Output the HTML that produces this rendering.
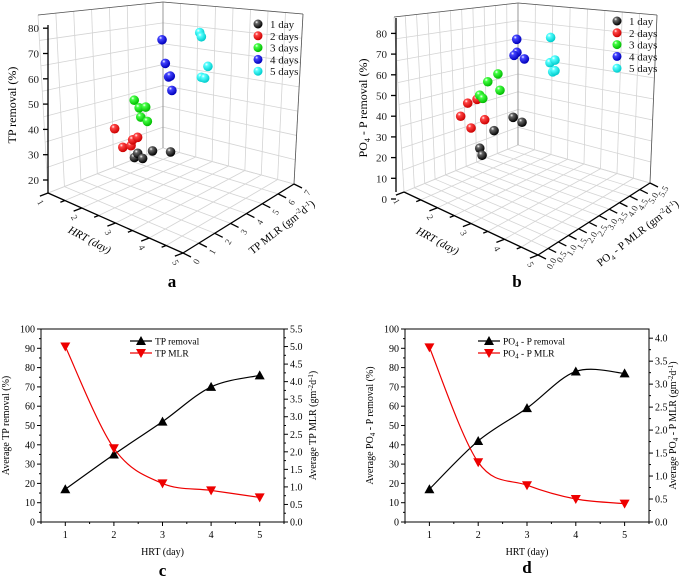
<!DOCTYPE html>
<html><head><meta charset="utf-8"><style>
html,body{margin:0;padding:0;background:#fff;}
svg{display:block;font-family:"Liberation Serif",serif;}
</style></head><body>
<svg id="fig" width="685" height="580" viewBox="0 0 685 580">
<defs>
<radialGradient id="gk" cx="0.35" cy="0.3" r="0.7"><stop offset="0" stop-color="#fff"/><stop offset="0.25" stop-color="#666"/><stop offset="1" stop-color="#000"/></radialGradient>
<radialGradient id="gr" cx="0.35" cy="0.3" r="0.7"><stop offset="0" stop-color="#fff"/><stop offset="0.25" stop-color="#f44"/><stop offset="1" stop-color="#c00"/></radialGradient>
<radialGradient id="gg" cx="0.35" cy="0.3" r="0.7"><stop offset="0" stop-color="#fff"/><stop offset="0.25" stop-color="#4f4"/><stop offset="1" stop-color="#0b0"/></radialGradient>
<radialGradient id="gb" cx="0.35" cy="0.3" r="0.7"><stop offset="0" stop-color="#fff"/><stop offset="0.25" stop-color="#44f"/><stop offset="1" stop-color="#00b"/></radialGradient>
<radialGradient id="gc" cx="0.35" cy="0.3" r="0.7"><stop offset="0" stop-color="#fff"/><stop offset="0.25" stop-color="#5ff"/><stop offset="1" stop-color="#0cc"/></radialGradient>
</defs>
</svg>
<script>
// ---- 3D scatter data (panel a) ----
const aHrt = [1,1,1,1,1, 2,2,2,2,2, 3,3,3,3,3, 4,4,4,4,4, 5,5,5,5,5];
const aMlr = [5.2,5.4,5.7,6.3,7.4, 2.0,2.5,3.0,3.1,3.4, 1.2,1.5,1.9,1.6,2.0, 0.9,1.1,1.3,1.4,1.5, 1.2,1.3,1.7,1.3,1.5];
const aRem = [12,13,10,11,7, 40,31,30,32,32, 60,56,55,52,49, 91,81,75,75,69, 99,97,84,81,80];
// ---- 3D scatter data (panel b) ----
const bHrt = [1,1,1,1,1, 2,2,2,2,2, 3,3,3,3,3, 4,4,4,4, 5,5,5,5,5];
const bMlr = [3.66,3.77,4.35,5.27,5.7, 1.12,1.46,1.91,1.62,2.28, 0.42,0.57,0.81,1.3,1.4, 0.59,0.6,0.46,0.96, 0.61,0.58,0.82,0.71,0.82];
const bRem = [9.6,5.7,15.3,18,13.8, 43.4,48.4,48.4,35.6,36.9, 64.3,62.1,69.2,71,62.6, 98.5,92.1,91.2,87.4, 107,94.8,95.1,89.8,89.9];
const legendLabels = ["1 day","2 days","3 days","4 days","5 days"];
// ---- line chart data ----
const hrtDays = [1,2,3,4,5];
const tpRemoval = [17,35,52,70,76];
const tpMlr = [5.0,2.1,1.1,0.9,0.7];
const poRemoval = [17,42,59,78,77];
const poMlr = [3.8,1.3,0.8,0.5,0.4];
const leftTicks = [0,10,20,30,40,50,60,70,80,90,100];
const rightTicksC = [0,0.5,1,1.5,2,2.5,3,3.5,4,4.5,5,5.5];
const rightTicksD = [0,0.5,1,1.5,2,2.5,3,3.5,4];

const NS="http://www.w3.org/2000/svg";
const svg=document.getElementById('fig');
function el(tag,attrs,parent,text){const e=document.createElementNS(NS,tag);for(const k in attrs)e.setAttribute(k,attrs[k]);if(text!==undefined)e.textContent=text;(parent||svg).appendChild(e);return e;}
const grads=['gk','gr','gg','gb','gc'];

function lerp(p,q,t){return [p[0]+(q[0]-p[0])*t,p[1]+(q[1]-p[1])*t];}
function draw3d(c){
  const g=el('g',{});
  
  
  const gs={stroke:'#d4d4d4','stroke-width':0.8,fill:'none'};
  for(let i=0;i<=c.nm;i++){const t=i/c.nm;const b=lerp(c.A,c.B,t),tp=lerp(c.TL,c.TB,t);el('line',{x1:b[0],y1:b[1],x2:tp[0],y2:tp[1],...gs},g);}
  for(let i=0;i<=c.nz;i++){const t=i/c.nz;const l=lerp(c.A,c.TL,t),r=lerp(c.B,c.TB,t);el('line',{x1:l[0],y1:l[1],x2:r[0],y2:r[1],...gs},g);}
  for(let i=0;i<=8;i++){const t=i/8;const b=lerp(c.B,c.C,t),tp=lerp(c.TB,c.TR,t);el('line',{x1:b[0],y1:b[1],x2:tp[0],y2:tp[1],...gs},g);}
  for(let i=0;i<=c.nz;i++){const t=i/c.nz;const l=lerp(c.B,c.TB,t),r=lerp(c.C,c.TR,t);el('line',{x1:l[0],y1:l[1],x2:r[0],y2:r[1],...gs},g);}
  for(let i=0;i<=8;i++){const t=i/8;const p=lerp(c.A,c.D,t),q=lerp(c.B,c.C,t);el('line',{x1:p[0],y1:p[1],x2:q[0],y2:q[1],...gs},g);}
  for(let i=0;i<=c.nm;i++){const t=i/c.nm;const p=lerp(c.A,c.B,t),q=lerp(c.D,c.C,t);el('line',{x1:p[0],y1:p[1],x2:q[0],y2:q[1],...gs},g);}
  el('polyline',{points:[c.TL,c.TB,c.TR].map(p=>p.join(',')).join(' '),stroke:'#555','stroke-width':0.8,fill:'none'},g);
  el('line',{x1:c.TB[0],y1:c.TB[1],x2:c.B[0],y2:c.B[1],stroke:'#888','stroke-width':0.8},g);
  el('line',{x1:c.TR[0],y1:c.TR[1],x2:c.C[0],y2:c.C[1],stroke:'#555','stroke-width':0.8},g);
  const ax={stroke:'#000','stroke-width':1.3,fill:'none'};
  el('line',{x1:c.zx,y1:c.zTop,x2:c.zx,y2:c.A[1],...ax},g);
  el('line',{x1:c.A[0],y1:c.A[1],x2:c.D[0],y2:c.D[1],...ax},g);
  el('line',{x1:c.D[0],y1:c.D[1],x2:c.C[0],y2:c.C[1],...ax},g);
  c.zTicks.forEach(v=>{const y=c.zY(v);el('line',{x1:c.zx-5,y1:y,x2:c.zx,y2:y,...ax},g);
    const t=el('text',{x:c.zx-9,y:y+4,'text-anchor':'end','font-size':11,fill:'#222'},g,String(v));
    });
  for(let i=0;i<=8;i++){const p=lerp(c.A,c.D,i/8);const len=i%2==0?9:5;
    el('line',{x1:p[0],y1:p[1],x2:p[0]-len*0.9,y2:p[1]+len*0.35,...ax},g);
    if(i%2==0){const lx=p[0]-10,ly=p[1]+11;
      const t=el('text',{x:lx,y:ly,'text-anchor':'middle','font-size':9,fill:'#333',transform:`rotate(60 ${lx} ${ly})`},g,String(1+i/2));
      }}
  c.mLabels.forEach((lab,i)=>{const p=lerp(c.D,c.C,i/(c.mLabels.length-1));
    el('line',{x1:p[0],y1:p[1],x2:p[0]+8,y2:p[1]+4,...ax},g);
    const lx=p[0]+16,ly=p[1]+10;
    const t=el('text',{x:lx,y:ly,'text-anchor':'middle','font-size':9,fill:'#333',transform:`rotate(-60 ${lx} ${ly})`},g,lab);
    });
  let t=el('text',{x:c.zTitle[0],y:c.zTitle[1],'text-anchor':'middle','font-size':12,transform:`rotate(-90 ${c.zTitle[0]} ${c.zTitle[1]})`},g);
  t.innerHTML=c.zTitleHtml;
  
  t=el('text',{x:c.hTitle[0],y:c.hTitle[1],'text-anchor':'middle','font-size':11,'font-style':'italic',transform:`rotate(28 ${c.hTitle[0]} ${c.hTitle[1]})`},g,'HRT (day)');
  
  t=el('text',{x:c.mTitle[0],y:c.mTitle[1],'text-anchor':'middle','font-size':11,transform:`rotate(-38 ${c.mTitle[0]} ${c.mTitle[1]})`},g);
  t.innerHTML=c.mTitleHtml;
  
  c.hrt.forEach((h,i)=>{const m=c.mlr[i],z=c.rem[i];
    const x=c.px(h,m),y=c.py(h,m,z);
    const s=el('circle',{cx:x,cy:y,r:4.8,fill:`url(#${grads[h-1]})`},g);
    
    });
  legendLabels.forEach((lab,i)=>{const y=c.leg[1]+i*11.8;
    const s=el('circle',{cx:c.leg[0],cy:y,r:4.5,fill:`url(#${grads[i]})`},g);
    
    const t=el('text',{x:c.leg[0]+12,y:y+4,'font-size':11,fill:'#111'},g,lab);
    });
  t=el('text',{x:c.letter[0],y:c.letter[1],'text-anchor':'middle','font-size':17,'font-weight':'bold'},g,c.letterText);
  
}

draw3d({name:'panel-a-3d-scatter',A:[48,193],B:[163,148],C:[294,184],D:[183,253],TL:[38,15],TB:[163,2],TR:[303,14],
  nm:7,nz:7,zx:48,zTop:25,zTicks:[20,30,40,50,60,70,80],zY:v=>180-(v-20)*2.53,
  mLabels:['0','1','2','3','4','5','6','7'],
  zTitle:[16,105],zTitleHtml:'TP removal (%)',hTitle:[88,243],mTitle:[284,230],
  mTitleHtml:'TP MLR (gm<tspan font-size="7" dy="-4">-2</tspan><tspan dy="4">d</tspan><tspan font-size="7" dy="-4">-1</tspan><tspan dy="4">)</tspan>',
  hrt:aHrt,mlr:aMlr,rem:aRem,
  px:(h,m)=>49+(h-1)/4*131+m/7*115, py:(h,m,z)=>193+(h-1)/4*62-m/7*58-(z-15)*2.53,
  leg:[258,24],letter:[172,287],letterText:'a'});

draw3d({name:'panel-b-3d-scatter',A:[404,192],B:[518,145],C:[650,183],D:[538,255],TL:[394,17],TB:[518,3],TR:[657,15],
  nm:11,nz:8,zx:396,zTop:18,zTicks:[0,10,20,30,40,50,60,70,80],zY:v=>199-v*2.07,
  mLabels:['0.0','0.5','1.0','1.5','2.0','2.5','3.0','3.5','4.0','4.5','5.0','5.5'],
  zTitle:[367,108],zTitleHtml:'PO<tspan font-size="8" dy="3">4</tspan><tspan dy="-3"> - P removal  (%)</tspan>',hTitle:[436,244],mTitle:[640,236],
  mTitleHtml:'PO<tspan font-size="7" dy="3">4</tspan><tspan dy="-3"> - P MLR (gm</tspan><tspan font-size="7" dy="-4">-2</tspan><tspan dy="4">d</tspan><tspan font-size="7" dy="-4">-1</tspan><tspan dy="4">)</tspan>',
  hrt:bHrt,mlr:bMlr,rem:bRem,
  px:(h,m)=>345+59+(h-1)*33.5+m*20.7, py:(h,m,z)=>199+(h-1)*15.75-m*8.5-z*2.05,
  leg:[617,21],letter:[517,287],letterText:'b'});

function spline(pts){let d=`M${pts[0][0]},${pts[0][1]}`;
  for(let i=0;i<pts.length-1;i++){const p0=pts[i-1]||pts[i],p1=pts[i],p2=pts[i+1],p3=pts[i+2]||p2;
    const c1=[p1[0]+(p2[0]-p0[0])/6,p1[1]+(p2[1]-p0[1])/6],c2=[p2[0]-(p3[0]-p1[0])/6,p2[1]-(p3[1]-p1[1])/6];
    d+=` C${c1[0]},${c1[1]} ${c2[0]},${c2[1]} ${p2[0]},${p2[1]}`;}return d;}
function draw2d(c){
  const g=el('g',{});
  
  
  const {L,R,T,B}=c;
  const xs=v=>L+(v-0.5)/5*(R-L);
  const yl=v=>B-v/100*(B-T);
  const yr=v=>B-v/c.rMax*(B-T);
  const ax={stroke:'#000','stroke-width':1};
  el('rect',{x:L,y:T,width:R-L,height:B-T,fill:'none',stroke:'#000','stroke-width':1},g);
  leftTicks.forEach(v=>{const y=yl(v);el('line',{x1:L-4,y1:y,x2:L,y2:y,...ax},g);
    if(v<100)el('line',{x1:L-2,y1:yl(v+5),x2:L,y2:yl(v+5),...ax},g);
    const t=el('text',{x:L-6,y:y+3.5,'text-anchor':'end','font-size':10},g,String(v));
    });
  c.rTicks.forEach((v,i)=>{const y=yr(v);el('line',{x1:R,y1:y,x2:R+4,y2:y,...ax},g);
    if(i<c.rTicks.length-1)el('line',{x1:R,y1:yr(v+0.25),x2:R+2,y2:yr(v+0.25),...ax},g);
    const t=el('text',{x:R+6,y:y+3.5,'font-size':10},g,v.toFixed(1));
    });
  for(let v=0.5;v<=5.5;v+=0.5){const x=xs(v);el('line',{x1:x,y1:B,x2:x,y2:B+(v%1==0?4:2),...ax},g);}
  hrtDays.forEach(v=>{const t=el('text',{x:xs(v),y:B+16,'text-anchor':'middle','font-size':10},g,String(v));
    });
  let t=el('text',{x:(L+R)/2,y:B+33,'text-anchor':'middle','font-size':10},g,'HRT (day)');
  
  t=el('text',{x:c.lt,y:(T+B)/2,'text-anchor':'middle','font-size':10,transform:`rotate(-90 ${c.lt} ${(T+B)/2})`},g);t.innerHTML=c.ltHtml;
  
  t=el('text',{x:c.rt,y:(T+B)/2,'text-anchor':'middle','font-size':10,transform:`rotate(-90 ${c.rt} ${(T+B)/2})`},g);t.innerHTML=c.rtHtml;
  
  const p1=hrtDays.map((d,i)=>[xs(d),yl(c.rem[i])]);
  const p2=hrtDays.map((d,i)=>[xs(d),yr(c.mlr[i])]);
  const l1=el('path',{d:spline(p1),stroke:'#000','stroke-width':1.2,fill:'none'},g);
  
  const l2=el('path',{d:spline(p2),stroke:'#e00','stroke-width':1.2,fill:'none'},g);
  
  const up=(x,y)=>`${x},${y-5} ${x-5},${y+4} ${x+5},${y+4}`;
  const dn=(x,y)=>`${x},${y+5} ${x-5},${y-4} ${x+5},${y-4}`;
  p1.forEach(p=>{const m=el('polygon',{points:up(p[0],p[1]),fill:'#000'},g);
    });
  p2.forEach(p=>{const m=el('polygon',{points:dn(p[0],p[1]),fill:'#e00'},g);
    });
  const lx=c.legX,ly=T+12;
  el('line',{x1:lx,y1:ly,x2:lx+22,y2:ly,stroke:'#000','stroke-width':1.2},g);
  el('polygon',{points:up(lx+11,ly),fill:'#000'},g);
  t=el('text',{x:lx+25,y:ly+3.5,'font-size':9.5},g);t.innerHTML=c.leg1;
  
  el('line',{x1:lx,y1:ly+12,x2:lx+22,y2:ly+12,stroke:'#e00','stroke-width':1.2},g);
  el('polygon',{points:dn(lx+11,ly+12),fill:'#e00'},g);
  t=el('text',{x:lx+25,y:ly+15.5,'font-size':9.5},g);t.innerHTML=c.leg2;
  
  t=el('text',{x:(L+R)/2,y:c.letterY,'text-anchor':'middle','font-size':17,'font-weight':'bold'},g,c.letter);
  
}
const sub='<tspan font-size="7" dy="2">4</tspan><tspan dy="-2">';
draw2d({name:'panel-c-line-chart',L:41,R:284,T:329,B:522,rMax:5.5,rTicks:rightTicksC,rem:tpRemoval,mlr:tpMlr,
  lt:9,ltHtml:'Average TP removal (%)',rt:316,
  rtHtml:'Average TP MLR (gm<tspan font-size="7" dy="-3">-2</tspan><tspan dy="3">d</tspan><tspan font-size="7" dy="-3">-1</tspan><tspan dy="3">)</tspan>',
  legX:130,leg1:'TP removal',leg2:'TP MLR',letter:'c',letterY:576});
draw2d({name:'panel-d-line-chart',L:405,R:649,T:329,B:522,rMax:4.2,rTicks:rightTicksD,rem:poRemoval,mlr:poMlr,
  lt:373,ltHtml:'Average PO'+sub+' - P removal (%)</tspan>',rt:676,
  rtHtml:'Average PO'+sub+' - P MLR (gm</tspan><tspan font-size="7" dy="-3">-2</tspan><tspan dy="3">d</tspan><tspan font-size="7" dy="-3">-1</tspan><tspan dy="3">)</tspan>',
  legX:478,leg1:'PO'+sub+' - P removal</tspan>',leg2:'PO'+sub+' - P MLR</tspan>',letter:'d',letterY:573});
</script>
</body></html>
